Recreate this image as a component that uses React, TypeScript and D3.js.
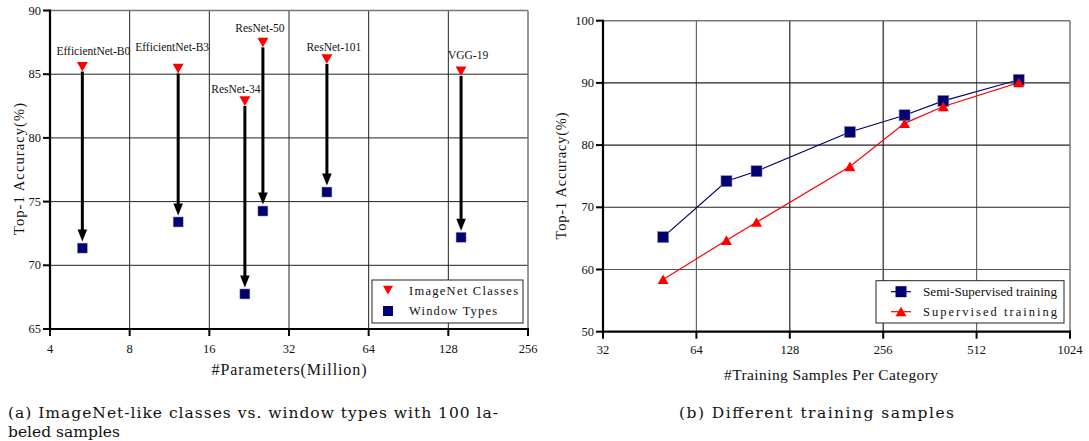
import React from "react";
import * as d3 from "d3";

// ---- Left chart data ----
const modelNames = ["EfficientNet-B0", "EfficientNet-B3", "ResNet-34", "ResNet-50", "ResNet-101", "VGG-19"];
const modelParams = [5.3, 12.2, 21.8, 25.5, 44.5, 143];
const imagenetAcc = [85.6, 85.45, 82.9, 87.5, 86.2, 85.25];
const windowAcc = [71.35, 73.4, 67.75, 74.26, 75.75, 72.2];
const leftXTicks = [4, 8, 16, 32, 64, 128, 256];
const leftYTicks = [65, 70, 75, 80, 85, 90];

// ---- Right chart data ----
const sampleCounts = [50, 80, 100, 200, 300, 400, 700];
const semiAcc = [65.2, 74.2, 75.8, 82.1, 84.8, 87.1, 90.5];
const supAcc = [58.4, 64.7, 67.6, 76.55, 83.5, 86.2, 90.05];
const rightXTicks = [32, 64, 128, 256, 512, 1024];
const rightYTicks = [50, 60, 70, 80, 90, 100];

// label layout offsets (dx, dy relative to triangle)
const labelDx = [11, -6, -9, -3, 7, 7];
const labelDy = [-11.5, -17, -8, -10, -8, -12];

const SERIF = "'Liberation Serif', 'Times New Roman', serif";
const CAPTION = "'DejaVu Serif', serif";
const NAVY = "#000070";
const RED = "#ff0000";

function downTri(cx: number, cy: number, s: number) {
  return `M${cx - s / 2},${cy - s * 0.42} L${cx + s / 2},${cy - s * 0.42} L${cx},${cy + s * 0.45} Z`;
}
function upTri(cx: number, cy: number, s: number) {
  return `M${cx - s / 2},${cy + s * 0.42} L${cx + s / 2},${cy + s * 0.42} L${cx},${cy - s * 0.45} Z`;
}

function LeftChart() {
  const x = d3.scaleLog().base(2).domain([4, 256]).range([50, 528]);
  const y = d3.scaleLinear().domain([65, 90]).range([329, 10.5]);
  const [x0, x1] = x.range();
  const [y0, y1] = y.range();
  return (
    <g>
      {leftXTicks.slice(1, -1).map((t) => (
        <line key={"gx" + t} x1={x(t)} x2={x(t)} y1={y1} y2={y0} stroke="#222" strokeWidth={1} />
      ))}
      {leftYTicks.slice(1, -1).map((t) => (
        <line key={"gy" + t} x1={x0} x2={x1} y1={y(t)} y2={y(t)} stroke="#222" strokeWidth={1} />
      ))}
      <line x1={x0} x2={x1} y1={y1} y2={y1} stroke="#777" strokeWidth={1.5} />
      <line x1={x1} x2={x1} y1={y1} y2={y0} stroke="#777" strokeWidth={1.5} />
      <line x1={x0} x2={x0} y1={y1 - 1} y2={y0 + 1} stroke="#000" strokeWidth={2.2} />
      <line x1={x0 - 1} x2={x1 + 1} y1={y0} y2={y0} stroke="#000" strokeWidth={2.2} />
      {leftYTicks.map((t) => (
        <g key={"yt" + t}>
          <line x1={x0 - 7} x2={x0} y1={y(t)} y2={y(t)} stroke="#000" strokeWidth={2} />
          <text x={x0 - 9} y={y(t) + 4} textAnchor="end" fontFamily={SERIF} fontSize={12.5} fill="#111">{t}</text>
        </g>
      ))}
      {leftXTicks.map((t) => (
        <g key={"xt" + t}>
          <line x1={x(t)} x2={x(t)} y1={y0} y2={y0 + 7} stroke="#000" strokeWidth={2} />
          <text x={x(t)} y={y0 + 24} textAnchor="middle" fontFamily={SERIF} fontSize={12.5} fill="#111">{t}</text>
        </g>
      ))}
      <text x={(x0 + x1) / 2} y={375} textAnchor="middle" fontFamily={SERIF} fontSize={16} fill="#111" textLength={155} lengthAdjust="spacing">#Parameters(Million)</text>
      <text transform={`translate(24,169) rotate(-90)`} textAnchor="middle" fontFamily={SERIF} fontSize={14.5} fill="#111" textLength={132} lengthAdjust="spacing">Top-1 Accuracy(%)</text>
      {modelNames.map((n, i) => {
        const cx = x(modelParams[i]);
        const ty = y(imagenetAcc[i]) + 5;
        const tip = y(windowAcc[i]) - 6.5;
        return (
          <g key={"ar" + n}>
            <line x1={cx} x2={cx} y1={ty} y2={tip - 9} stroke="#000" strokeWidth={3} />
            <path d={`M${cx - 4.8},${tip - 12} L${cx + 4.8},${tip - 12} L${cx},${tip} Z`} fill="#000" />
          </g>
        );
      })}
      {modelNames.map((n, i) => (
        <g key={"m" + n}>
          <path d={downTri(x(modelParams[i]), y(imagenetAcc[i]), 11)} fill={RED} />
          <rect x={x(modelParams[i]) - 5} y={y(windowAcc[i]) - 5} width={10} height={10} fill={NAVY} stroke="#9999cc" strokeWidth={0.5} />
          <text x={x(modelParams[i]) + labelDx[i]} y={y(imagenetAcc[i]) + labelDy[i]} textAnchor="middle" fontFamily={SERIF} fontSize={11.5} fill="#111">{n}</text>
        </g>
      ))}
      <rect x={372} y={280} width={151} height={43} fill="#fff" stroke="#222" strokeWidth={1} />
      <path d={downTri(388, 290, 10)} fill={RED} />
      <text x={409} y={295} fontFamily={SERIF} fontSize={12.5} fill="#111" textLength={109} lengthAdjust="spacing">ImageNet Classes</text>
      <rect x={383} y={306} width={10} height={10} fill={NAVY} />
      <text x={409} y={315} fontFamily={SERIF} fontSize={12.5} fill="#111" textLength={88} lengthAdjust="spacing">Window Types</text>
    </g>
  );
}

function RightChart() {
  const x = d3.scaleLog().base(2).domain([32, 1024]).range([603, 1070]);
  const y = d3.scaleLinear().domain([50, 100]).range([331.7, 20.7]);
  const [x0, x1] = x.range();
  const [y0, y1] = y.range();
  const line = d3.line<[number, number]>().x((d) => x(d[0])).y((d) => y(d[1]));
  const semiPts = sampleCounts.map((c, i) => [c, semiAcc[i]] as [number, number]);
  const supPts = sampleCounts.map((c, i) => [c, supAcc[i]] as [number, number]);
  return (
    <g>
      {rightXTicks.slice(1, -1).map((t) => (
        <line key={"gx" + t} x1={x(t)} x2={x(t)} y1={y1} y2={y0} stroke={t === 64 || t === 512 ? "#666" : "#222"} strokeWidth={1.2} />
      ))}
      {rightYTicks.slice(1, -1).map((t) => (
        <line key={"gy" + t} x1={x0} x2={x1} y1={y(t)} y2={y(t)} stroke={t === 60 ? "#555" : "#222"} strokeWidth={1.1} />
      ))}
      <line x1={x0} x2={x1} y1={y1} y2={y1} stroke="#777" strokeWidth={1.5} />
      <line x1={x1} x2={x1} y1={y1} y2={y0} stroke="#777" strokeWidth={1.5} />
      <line x1={x0} x2={x0} y1={y1 - 1} y2={y0 + 1} stroke="#000" strokeWidth={2.2} />
      <line x1={x0 - 1} x2={x1 + 1} y1={y0} y2={y0} stroke="#000" strokeWidth={2.2} />
      {rightYTicks.map((t) => (
        <g key={"yt" + t}>
          <line x1={x0 - 7} x2={x0} y1={y(t)} y2={y(t)} stroke="#000" strokeWidth={2} />
          <text x={x0 - 9} y={y(t) + 4} textAnchor="end" fontFamily={SERIF} fontSize={12.5} fill="#111">{t}</text>
        </g>
      ))}
      {rightXTicks.map((t) => (
        <g key={"xt" + t}>
          <line x1={x(t)} x2={x(t)} y1={y0} y2={y0 + 7} stroke="#000" strokeWidth={2} />
          <text x={x(t)} y={y0 + 22} textAnchor="middle" fontFamily={SERIF} fontSize={12.5} fill="#111">{t}</text>
        </g>
      ))}
      <text x={831} y={380} textAnchor="middle" fontFamily={SERIF} fontSize={15.5} fill="#111" textLength={214} lengthAdjust="spacing">#Training Samples Per Category</text>
      <text transform={`translate(566,176) rotate(-90)`} textAnchor="middle" fontFamily={SERIF} fontSize={14.5} fill="#111" textLength={127} lengthAdjust="spacing">Top-1 Accuracy(%)</text>
      <path d={line(semiPts) || ""} fill="none" stroke={NAVY} strokeWidth={1.2} />
      <path d={line(supPts) || ""} fill="none" stroke={RED} strokeWidth={1.2} />
      {semiPts.map((p, i) => (
        <rect key={"s" + i} x={x(p[0]) - 5.5} y={y(p[1]) - 5.5} width={11} height={11} fill={NAVY} stroke="#8888bb" strokeWidth={0.6} />
      ))}
      {supPts.map((p, i) => (
        <path key={"t" + i} d={upTri(x(p[0]), y(p[1]), 11)} fill={RED} />
      ))}
      <rect x={876} y={280.7} width={188} height={42.3} fill="#fff" stroke="#222" strokeWidth={1} />
      <line x1={891} x2={911} y1={291.7} y2={291.7} stroke={NAVY} strokeWidth={1.2} />
      <rect x={895.5} y={286.2} width={11} height={11} fill={NAVY} />
      <text x={923} y={296} fontFamily={SERIF} fontSize={12.5} fill="#111" textLength={134} lengthAdjust="spacingAndGlyphs">Semi-Supervised training</text>
      <line x1={891} x2={911} y1={311.7} y2={311.7} stroke={RED} strokeWidth={1.2} />
      <path d={upTri(901, 311.7, 11)} fill={RED} />
      <text x={923} y={316} fontFamily={SERIF} fontSize={12.5} fill="#111" textLength={134} lengthAdjust="spacing">Supervised training</text>
    </g>
  );
}

export default function App() {
  return (
    <svg width={1089} height={441} style={{ position: "absolute", left: 0, top: 0, background: "#fff" }}>
      <rect x={0} y={0} width={1089} height={441} fill="#fff" />
      <LeftChart />
      <RightChart />
      <text x={8} y={417.5} fontFamily={CAPTION} fontSize={15.5} fill="#111" textLength={490} lengthAdjust="spacing">(a) ImageNet-like classes vs.  window types with 100 la-</text>
      <text x={8} y={436.5} fontFamily={CAPTION} fontSize={15.5} fill="#111">beled samples</text>
      <text x={679} y={418} fontFamily={CAPTION} fontSize={15.5} fill="#111" textLength={275} lengthAdjust="spacing">(b) Different training samples</text>
    </svg>
  );
}
